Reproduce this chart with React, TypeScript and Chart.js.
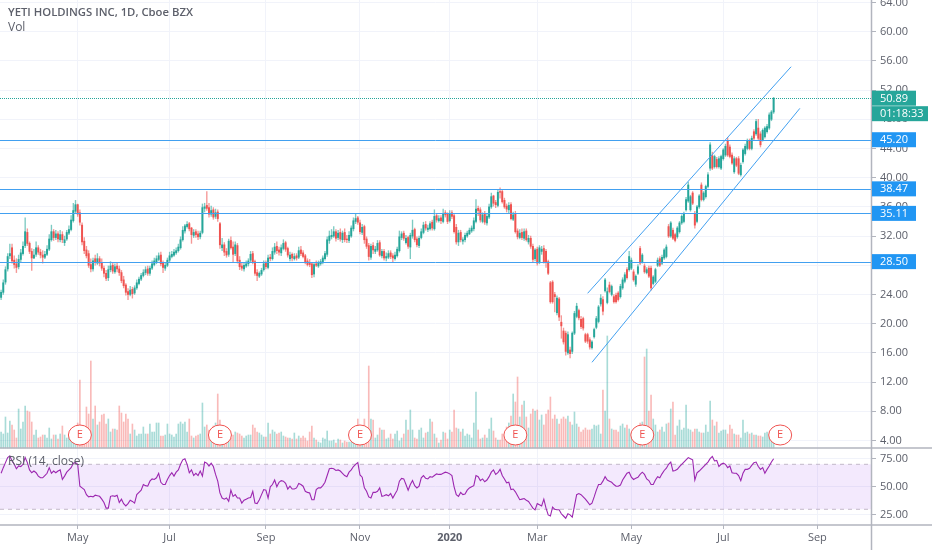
import { useEffect, useRef } from 'react';
import { Chart, registerables } from 'chart.js';

Chart.register(...registerables);

const FONT = '"Open Sans", sans-serif';
const UP = '#26a69a';
const DOWN = '#ef5350';
const BLUE = '#42a0f0';
const BADGE = '#2196f3';
const AXIS = '#b2b5be';
const TEXT = '#5d606b';

// daily candles
const opens = [
  23.6,24.3,25.7,27.5,29.3,30.4,28.7,28.2,27.8,28.8,
  29.6,30.7,32.5,31.0,29.9,29.0,29.5,30.4,29.8,29.4,
  29.1,29.5,30.2,31.5,32.6,31.8,32.3,31.5,32.2,31.1,
  31.6,32.4,32.9,34.1,35.4,36.3,35.2,33.5,31.3,30.1,
  29.6,28.1,27.5,28.9,28.3,28.9,28.4,27.6,26.9,26.3,
  27.4,28.0,27.1,27.9,27.5,27.0,26.0,25.3,24.4,24.0,
  24.7,24.2,24.9,25.5,26.1,26.6,27.0,27.5,26.9,27.6,
  28.1,28.5,28.8,29.4,28.3,27.6,28.0,28.7,29.2,29.4,
  29.7,30.0,30.4,31.5,32.7,33.3,33.7,33.1,32.1,32.6,
  32.3,31.9,32.5,35.8,36.2,35.9,35.0,35.6,34.7,35.3,
  33.7,30.4,30.8,29.9,29.5,31.4,30.5,29.6,30.7,28.7,
  27.9,27.5,27.9,28.2,28.7,29.6,28.5,27.0,26.5,26.8,
  27.4,28.3,27.7,29.1,28.9,29.8,30.6,30.1,29.7,30.3,
  31.1,30.3,28.9,29.5,28.9,29.3,29.1,30.1,29.7,29.3,
  28.6,28.3,28.2,26.8,28.2,27.9,28.2,28.4,28.9,29.5,
  31.4,31.9,32.0,32.6,31.8,32.5,31.5,32.5,31.6,31.4,
  32.0,33.0,34.0,34.5,33.8,32.5,33.3,31.6,30.7,29.1,
  30.7,29.9,30.1,31.1,29.3,29.9,29.0,29.1,29.7,29.3,
  28.9,29.3,30.0,31.8,32.4,31.1,31.8,30.5,32.0,32.9,
  31.6,30.7,31.8,32.5,33.6,32.9,33.0,33.9,33.0,34.8,
  34.1,34.5,34.0,35.2,35.0,34.1,35.2,34.8,33.2,31.2,
  32.5,31.3,31.5,32.0,32.3,32.7,33.0,34.0,35.8,35.6,
  34.0,35.0,33.8,34.6,36.0,37.5,36.6,36.2,38.1,38.1,
  36.9,36.1,35.6,36.3,34.3,35.0,32.7,31.8,32.5,31.7,
  32.7,31.2,31.7,30.6,28.9,30.2,28.4,29.9,30.3,29.9,
  28.5,25.6,25.7,24.0,21.5,23.4,20.2,19.0,18.7,16.0,
  16.4,16.2,18.7,21.0,21.8,20.6,20.7,18.5,18.5,17.8,
  16.7,18.2,19.5,20.3,22.7,23.3,24.5,22.9,25.3,24.0,
  23.7,23.9,24.2,23.7,24.9,25.8,27.4,27.4,27.6,27.1,
  25.4,26.9,30.3,28.5,27.9,27.0,27.6,27.6,25.5,25.8,
  28.0,28.9,28.3,29.0,29.2,33.3,32.0,32.8,32.2,31.9,
  32.6,33.8,34.0,35.6,36.8,35.6,37.9,35.1,34.0,36.0,
  39.0,37.0,37.4,38.8,41.3,43.0,41.5,42.5,41.5,41.3,
  42.6,43.1,45.0,44.2,43.1,40.8,42.6,42.6,40.4,42.2,
  43.3,44.0,45.0,44.0,46.3,46.0,46.8,46.0,45.2,45.6,
  46.3,46.8,48.0,49.0,
];

const highs = [
  24.6,26.0,27.8,29.6,30.9,30.9,29.3,28.9,29.4,30.2,
  31.2,34.5,33.0,31.2,30.3,30.2,31.2,30.7,30.2,30.0,
  29.9,30.7,32.2,33.5,32.9,32.8,32.6,32.8,32.6,32.0,
  32.8,33.4,34.8,36.5,36.9,36.4,35.6,33.8,31.8,30.6,
  30.0,28.9,29.0,29.4,29.6,29.2,28.9,27.9,27.3,27.9,
  28.5,28.4,28.2,28.3,27.9,27.3,26.5,25.5,24.8,25.1,
  25.0,25.2,26.0,26.4,26.9,27.4,27.8,27.9,27.9,28.6,
  29.0,29.3,29.7,29.8,28.6,28.3,29.0,29.8,29.9,30.2,
  30.4,30.9,31.9,33.3,33.6,34.0,33.9,33.2,32.9,32.9,
  32.7,32.7,36.4,36.5,38.1,36.5,36.1,35.9,35.7,35.6,
  33.9,31.7,31.1,30.3,31.6,31.9,31.2,31.2,31.0,29.2,
  28.4,28.4,28.6,28.9,29.9,29.9,28.7,27.4,27.1,27.6,
  28.6,28.6,29.4,29.5,30.4,31.0,31.2,30.5,30.8,31.5,
  31.3,30.5,29.8,29.7,29.6,29.6,30.5,30.6,30.0,29.5,
  28.9,28.8,28.4,28.4,28.6,28.6,28.8,29.3,29.9,31.9,
  32.7,32.9,33.3,32.9,32.8,33.0,32.7,33.0,32.1,32.6,
  33.4,34.5,35.1,34.7,34.2,33.6,33.5,31.9,31.0,30.9,
  31.1,30.6,31.4,31.4,30.2,30.2,29.7,30.0,30.0,29.6,
  29.8,30.5,32.7,32.6,32.7,32.1,32.0,32.4,34.2,33.1,
  31.9,32.0,33.0,33.9,34.0,33.5,34.0,34.2,35.6,35.0,
  34.8,34.8,35.7,35.5,35.2,35.5,35.5,35.0,33.6,32.8,
  32.8,31.8,32.4,32.7,33.1,33.4,34.5,37.0,36.1,35.9,
  35.2,35.4,35.0,36.4,37.9,37.6,36.9,38.3,38.6,38.4,
  37.2,36.4,36.6,36.6,35.3,35.4,33.0,32.9,33.0,33.0,
  33.0,32.1,32.0,30.9,30.3,30.5,30.7,30.6,30.7,30.2,
  28.7,25.8,25.9,24.3,23.8,23.6,21.1,19.4,19.0,18.9,
  16.8,18.9,21.7,22.8,22.0,21.0,20.9,18.7,18.7,18.1,
  17.7,19.4,21.0,22.5,24.0,23.7,26.2,24.9,25.7,25.3,
  24.0,24.2,24.4,25.4,26.3,27.0,27.7,29.9,29.0,27.4,
  26.7,28.1,30.6,29.6,28.2,27.7,27.9,27.9,26.6,27.6,
  29.0,29.2,29.4,30.3,30.8,33.6,34.0,33.1,32.4,33.3,
  34.0,34.9,35.3,37.3,39.4,37.6,38.1,35.4,36.2,37.7,
  39.3,38.1,39.0,40.7,44.8,43.5,43.1,42.8,42.9,43.1,
  44.0,44.6,45.5,44.5,43.4,42.9,42.8,42.9,42.0,44.0,
  44.6,45.3,45.3,45.7,46.6,48.0,48.0,46.3,46.7,47.0,
  47.3,48.9,49.2,51.0,
];

const lows = [
  23.3,24.0,25.4,27.2,28.9,28.3,27.6,27.0,27.5,28.5,
  29.4,30.4,30.7,29.6,27.3,28.9,29.2,29.5,29.0,28.3,
  28.9,29.3,30.0,31.3,31.4,31.5,31.2,31.2,31.1,30.7,
  31.4,32.2,32.7,33.9,35.1,34.7,33.5,30.8,29.6,29.0,
  27.7,27.1,27.2,28.0,28.1,27.9,27.3,26.4,25.9,25.9,
  27.1,26.9,26.9,27.1,26.6,25.6,24.9,23.9,23.3,23.8,
  23.5,24.0,24.7,25.3,25.9,26.4,26.7,26.6,26.6,27.4,
  27.9,28.2,28.6,27.9,27.0,27.3,27.8,28.5,29.0,29.2,
  29.5,29.8,30.2,31.3,32.4,33.1,32.7,31.0,31.8,31.8,
  31.5,31.6,32.3,35.3,35.5,34.6,34.7,34.3,34.4,34.0,
  30.3,30.0,29.3,29.1,29.2,30.2,28.5,29.3,28.3,27.4,
  27.3,27.2,27.7,27.9,28.4,28.2,26.6,25.9,26.3,26.6,
  27.2,27.5,27.5,28.6,28.7,29.5,29.6,29.4,29.3,30.1,
  29.9,29.1,28.6,28.6,28.7,28.7,28.9,29.3,29.0,28.2,
  27.9,27.8,26.3,26.4,27.8,27.7,28.0,28.2,28.7,29.2,
  31.0,31.6,31.8,31.3,31.5,31.3,31.1,31.2,31.1,31.1,
  31.8,32.7,33.7,33.6,32.3,32.2,31.0,30.3,28.7,28.8,
  29.6,29.6,29.9,29.2,29.0,28.7,28.6,28.9,28.9,28.5,
  28.7,29.1,29.8,31.5,31.4,30.9,30.3,28.9,31.7,31.2,
  30.5,30.4,31.6,32.3,32.8,32.6,32.8,32.8,32.8,33.9,
  33.9,33.7,33.8,34.6,33.7,33.9,34.4,32.4,30.9,30.7,
  31.2,30.9,31.2,31.8,32.2,32.5,32.7,33.8,34.8,33.9,
  33.8,33.6,33.5,34.4,35.8,36.1,35.9,36.0,37.2,36.5,
  35.8,35.3,35.2,34.2,34.1,32.4,31.6,31.6,31.5,31.4,
  31.3,30.9,30.3,28.4,28.6,28.0,28.2,29.5,28.3,27.7,
  26.7,22.8,22.8,21.6,21.2,20.4,18.0,17.2,15.7,15.8,
  15.3,15.9,18.5,20.8,20.5,19.3,19.1,17.4,17.3,16.5,
  16.5,18.0,19.3,20.1,22.4,21.2,24.3,22.7,24.2,23.8,
  22.8,22.8,23.1,23.5,24.7,25.6,26.1,27.2,27.4,25.8,
  25.1,26.7,28.1,28.3,26.9,26.8,26.3,24.6,25.3,25.6,
  27.8,27.8,28.1,28.8,29.0,31.8,31.8,31.5,31.2,31.7,
  32.4,33.6,33.8,35.4,36.6,35.4,36.3,33.1,33.8,35.8,
  36.8,36.8,37.2,38.6,41.0,41.1,41.3,41.3,41.3,41.1,
  42.4,42.9,42.9,42.7,41.8,40.6,41.5,40.4,40.2,42.0,
  43.1,43.8,43.8,43.8,45.2,45.8,45.2,44.2,45.0,45.4,
  46.1,46.6,47.8,48.8,
];

const closes = [
  24.3,25.6,27.4,29.2,29.6,28.6,28.1,27.7,28.8,29.7,
  30.6,32.6,31.0,29.9,29.0,29.4,30.4,29.8,29.4,29.1,
  29.5,30.2,31.6,32.6,31.8,32.3,31.6,32.2,31.5,31.5,
  32.5,32.9,34.2,35.5,36.3,35.0,33.9,31.2,30.0,29.3,
  28.0,27.5,28.6,28.4,28.9,28.3,27.6,26.9,26.2,27.4,
  27.9,27.2,27.8,27.5,27.0,25.9,25.2,24.3,24.0,24.6,
  24.1,24.9,25.6,26.1,26.6,27.0,27.4,26.9,27.6,28.2,
  28.6,28.9,29.3,28.2,27.7,28.0,28.7,29.3,29.5,29.8,
  30.0,30.5,31.5,32.8,33.4,33.6,33.0,32.2,32.5,32.2,
  31.9,32.4,35.9,36.0,35.8,35.0,35.5,34.6,35.2,34.4,
  30.8,30.8,29.8,29.4,31.3,30.4,29.5,30.8,28.6,27.8,
  27.6,28.0,28.2,28.6,29.5,28.4,26.9,26.6,26.9,27.3,
  28.2,27.8,29.0,28.9,29.9,30.5,30.0,29.8,30.4,31.0,
  30.2,29.4,29.4,29.0,29.2,29.0,30.0,29.6,29.2,28.5,
  28.1,28.1,26.7,28.1,28.0,28.3,28.5,29.0,29.6,31.5,
  32.0,32.1,32.6,31.7,32.4,31.6,32.4,31.5,31.5,32.1,
  33.1,34.1,34.4,33.9,32.6,33.2,31.5,30.6,29.2,30.6,
  30.1,30.2,31.0,29.4,29.9,29.0,29.2,29.6,29.2,29.0,
  29.4,30.2,31.9,32.3,31.7,31.7,30.6,32.1,32.8,31.5,
  30.8,31.7,32.6,33.5,33.1,33.1,33.7,33.1,34.7,34.2,
  34.4,34.1,35.1,34.9,34.0,35.1,34.7,32.6,31.2,32.4,
  31.5,31.5,32.1,32.4,32.8,33.1,34.1,35.7,35.5,34.2,
  34.9,33.9,34.7,36.0,37.4,36.5,36.3,38.0,38.0,36.7,
  36.0,35.7,36.2,34.4,34.9,32.6,31.9,32.4,31.8,32.6,
  31.5,31.7,30.6,28.8,30.1,28.3,30.4,30.2,28.5,28.5,
  26.9,23.0,23.0,23.7,23.5,20.9,19.7,17.5,16.2,18.5,
  15.9,18.7,21.4,22.4,20.8,19.6,19.4,17.6,17.6,16.8,
  17.5,19.2,20.7,22.3,23.5,21.7,26.0,24.4,24.4,25.1,
  23.0,23.0,23.3,25.1,26.0,26.7,26.3,29.2,28.7,26.0,
  26.5,27.8,28.3,29.4,27.1,27.4,26.5,24.9,26.4,27.4,
  28.7,28.0,29.1,30.1,30.5,32.0,33.8,31.7,31.4,33.1,
  33.8,34.7,35.1,37.0,39.0,37.4,36.5,33.5,36.0,37.5,
  37.0,37.9,38.8,40.4,44.5,41.3,42.9,41.5,42.6,42.9,
  43.8,44.3,43.1,42.9,42.0,42.6,41.7,40.6,41.7,43.8,
  44.3,45.0,44.0,45.4,45.4,47.7,45.4,44.5,46.5,46.8,
  47.0,48.6,49.0,50.89,
];

const volumes = [
  1.6,1.4,3.1,1.5,2.7,2.3,1.8,1.0,3.9,1.9,
  2.6,4.2,3.7,3.6,2.6,1.3,1.8,1.0,1.1,1.3,
  1.3,1.0,2.0,0.9,1.3,1.3,0.9,1.4,2.2,1.3,
  1.0,1.2,1.6,1.7,2.0,2.5,6.8,1.5,1.6,4.1,
  3.4,8.7,2.9,4.2,2.3,2.6,3.3,3.4,2.4,2.9,
  1.6,1.9,1.9,1.8,4.2,3.5,2.6,3.4,2.9,1.4,
  2.4,1.8,1.2,1.4,1.4,2.1,1.4,1.4,2.4,1.6,
  1.6,2.5,2.5,1.2,1.2,1.3,2.4,1.4,1.3,1.1,
  1.4,2.4,2.6,2.4,2.6,1.6,2.9,1.2,1.0,1.2,
  1.3,1.4,4.5,2.1,2.3,1.8,1.8,2.2,2.5,5.4,
  2.8,1.4,1.2,1.0,1.3,1.0,1.3,1.6,1.5,1.4,
  1.2,1.0,1.2,1.3,1.3,2.3,2.0,1.6,1.5,1.3,
  1.1,1.1,2.5,1.4,1.8,1.6,1.4,1.5,1.6,1.2,
  1.1,1.0,1.0,0.9,1.5,0.9,1.2,1.0,1.2,1.0,
  0.7,1.6,2.2,1.0,0.8,0.6,0.5,1.0,0.9,1.7,
  0.7,0.7,0.8,0.5,0.9,0.8,0.5,0.7,0.6,0.6,
  0.6,0.7,1.2,2.9,1.0,1.5,2.9,1.5,8.2,2.9,
  2.8,1.0,1.3,2.0,1.8,1.8,0.9,1.0,1.4,0.9,
  1.4,1.7,0.7,1.0,1.4,2.8,1.8,3.8,1.8,1.0,
  0.9,1.8,2.0,1.0,1.5,1.6,2.9,2.6,1.4,1.0,
  0.5,0.8,1.6,1.5,0.9,1.8,1.6,3.8,2.0,1.9,
  1.6,1.9,1.2,1.4,1.3,1.0,2.5,5.6,1.8,0.9,
  1.0,1.3,1.0,1.9,3.0,1.7,1.0,0.8,0.8,1.4,
  1.2,2.1,2.5,3.2,5.4,4.6,7.1,3.1,4.3,4.7,
  3.1,2.0,3.4,3.9,3.7,3.8,2.8,3.3,2.3,3.4,
  3.8,5.1,2.9,3.3,2.9,2.4,2.9,3.1,2.9,3.2,
  2.6,2.3,3.6,2.4,2.1,1.6,1.8,2.0,1.8,1.8,
  1.9,2.3,2.2,2.3,1.4,5.8,3.7,11.2,2.9,1.9,
  1.8,1.8,1.6,2.2,2.4,2.0,2.3,1.9,1.5,1.8,
  1.7,1.8,2.5,2.6,9.1,9.9,3.7,5.3,2.9,2.3,
  1.6,1.8,2.1,1.6,2.4,2.5,3.9,4.6,1.3,2.2,
  2.8,1.8,2.0,4.3,1.9,1.8,1.6,1.9,1.9,1.6,
  1.5,1.5,2.3,1.6,4.7,2.8,2.2,2.6,1.5,1.7,
  1.8,1.8,1.4,2.3,1.9,1.4,1.3,1.3,1.0,2.8,
  1.5,1.6,1.4,1.5,1.3,1.3,1.2,1.2,1.1,1.5,
  1.6,1.2,1.0,0.5,
];

const rsi = [
  62,67,71.5,76,77.5,73,70,66,68.5,68,
  70,76,71.5,65,62.5,64,62.5,59.5,58,58,
  60,62,67,62,64,62.5,64,65,56.5,59.5,
  63,65,67,71,71.5,70,50.5,49,47.5,43,
  41,41.5,41,42.5,42,41.5,39,36,31,31,
  41.5,42,41.5,42.5,36,39,35,33,35,38,
  37,35.5,43,45,47,52,51,50.5,55,57,
  56.5,58,62,54,52,52,56.5,60,62.5,59.5,
  63,65,70,74,75,70,62.5,65,60,62,
  60,64,59.5,72,71,68.5,71,68,61,55,
  44.5,40,39,40,37,47,41.5,43,40,40,
  35.5,38,39,40,40.5,46,35.5,35,38.5,43,
  47.5,47,40,50,52,56,50,54,55.5,55,
  53,48,50.5,48,48,49,53,52,50.5,46,
  45,44.5,38.5,38.5,47.5,49,49,51,54,60,
  66,66.5,66,64.5,65,64,62,60,59,63,
  65,68,70,71.5,60.5,58.5,49,46,41,40,
  45,45,46,49,41.5,42,43,42,44,40,
  43.5,47,55,57.5,57,52,47,52,55.5,51,
  49,50.5,58,60,57.5,57,59,58.5,60,61.5,
  61,61,62,63,62.5,61.5,60,50,43,41.5,
  45,43,43.5,47,49,50,51,60,59,55.5,
  57,54.5,56,59,63,65,61,62.5,65.5,60,
  57,53.5,54,47.5,48,45.5,42,38.5,39,39.5,
  38,37,34,31,29.5,35,34,33,39,31,
  25,24,32,30,29.5,29.5,26,24,22,26,
  25,23,33,43,44,43,41,39,36.5,34,
  35.5,41,47,52,52,55,59,56,55,54,
  52,50.5,50.5,51.5,56,59,62,63,58.5,56.5,
  57.5,58.5,61,63,61,57,55.5,52,52,56,
  59,58,61.5,64.5,66.5,70,72,64,64.5,65.5,
  68,70,72,74,76,75,74,56,62.5,64,
  66,68,70,72,75,77,73,73.5,68,70,
  71,70,67,68.5,62.5,62,62,60,55.5,62,
  65.5,65.5,66.5,69,71.5,72,68,65.5,67,62,
  65.5,68.5,72,75,
];

const slotCount = 398; // bars plus the empty space to the right of the last one
const slots = Array.from({ length: slotCount }, (_, i) => String(i));

const monthSlots = [35, 77, 121, 164, 205, 245, 288, 330, 373];
const monthNames = ['May', 'Jul', 'Sep', 'Nov', '2020', 'Mar', 'May', 'Jul', 'Sep'];
const priceTicks = [4, 8, 12, 16, 20, 24, 28, 32, 36, 40, 44, 48, 52, 56, 60, 64];
const rsiTicks = [25, 50, 75];

const levels = [45.2, 38.47, 35.11, 28.5];
const lastPrice = 50.89;
const countdown = '01:18:33';
const earningsSlots = [36, 100, 164, 235, 293, 356];
const upperChannel: [number, number][] = [[268, 24.16], [361, 55.2]];
const lowerChannel: [number, number][] = [[270, 14.71], [365, 49.5]];

const channelData = (pts: [number, number][]) =>
  slots.map((_, i) => {
    const hit = pts.find((p) => p[0] === i);
    return hit ? hit[1] : null;
  });

const isUp = (i: number) => closes[i] >= opens[i];

// fixed axis width, and no room reserved for half a tick label at the pane ends
const fitPane = (s: any) => {
  s.width = 61;
  s.paddingTop = 0;
  s.paddingBottom = 0;
};

const overlay = {
  id: 'overlay',
  beforeDatasetsDraw(chart: any) {
    const { ctx, chartArea, scales } = chart;
    const r = scales.rsi;
    const top = r.getPixelForValue(70);
    const bot = r.getPixelForValue(30);
    ctx.save();
    ctx.fillStyle = 'rgba(140,40,235,0.1)';
    ctx.fillRect(chartArea.left, top, chartArea.width, bot - top);
    ctx.strokeStyle = '#c3b8c9';
    ctx.setLineDash([4, 4]);
    ctx.lineWidth = 1;
    [top, bot].forEach((y) => {
      ctx.beginPath();
      ctx.moveTo(chartArea.left, y);
      ctx.lineTo(chartArea.right, y);
      ctx.stroke();
    });
    ctx.restore();
  },
  afterDatasetsDraw(chart: any) {
    const { ctx, chartArea, scales } = chart;
    const y = scales.y;
    const x = scales.x;
    ctx.save();
    ctx.strokeStyle = BLUE;
    ctx.lineWidth = 1;
    levels.forEach((v) => {
      const p = Math.round(y.getPixelForValue(v)) + 0.5;
      ctx.beginPath();
      ctx.moveTo(chartArea.left, p);
      ctx.lineTo(chartArea.right, p);
      ctx.stroke();
    });
    const lp = Math.round(y.getPixelForValue(lastPrice)) + 0.5;
    ctx.strokeStyle = UP;
    ctx.setLineDash([1, 1]);
    ctx.beginPath();
    ctx.moveTo(chartArea.left, lp);
    ctx.lineTo(chartArea.right, lp);
    ctx.stroke();
    ctx.setLineDash([]);

    // earnings markers sit on the bottom of the price pane
    earningsSlots.forEach((s) => {
      const cx = x.getPixelForValue(s);
      const cy = y.bottom - 13;
      ctx.beginPath();
      ctx.ellipse(cx, cy, 11.5, 10, 0, 0, Math.PI * 2);
      ctx.fillStyle = '#ffffff';
      ctx.fill();
      ctx.strokeStyle = DOWN;
      ctx.lineWidth = 1;
      ctx.stroke();
      ctx.fillStyle = DOWN;
      ctx.font = `11px ${FONT}`;
      ctx.textAlign = 'center';
      ctx.textBaseline = 'middle';
      ctx.fillText('E', cx, cy);
    });
    ctx.restore();
  },
  afterDraw(chart: any) {
    const { ctx, chartArea, scales, width, height } = chart;
    const y = scales.y;
    ctx.save();
    // pane borders and price axis line
    ctx.strokeStyle = AXIS;
    ctx.lineWidth = 1.5;
    [y.bottom, chartArea.bottom].forEach((p) => {
      ctx.beginPath();
      ctx.moveTo(0, p);
      ctx.lineTo(width, p);
      ctx.stroke();
    });
    ctx.beginPath();
    ctx.moveTo(chartArea.right + 0.5, 0);
    ctx.lineTo(chartArea.right + 0.5, height);
    ctx.stroke();

    // legends
    ctx.textAlign = 'left';
    ctx.textBaseline = 'middle';
    ctx.fillStyle = TEXT;
    ctx.font = `600 11.3px ${FONT}`;
    ctx.fillText('YETI HOLDINGS INC, 1D, Cboe BZX', 8, 13);
    ctx.font = `12px ${FONT}`;
    ctx.fillText('Vol', 8, 28);
    ctx.fillText('RSI (14, close)', 8, 462);

    // price badges
    const badge = (v: number, color: string, text: string, w: number, dy = 0) => {
      const p = y.getPixelForValue(v) + dy;
      ctx.fillStyle = color;
      ctx.fillRect(chartArea.right + 1, p - 7.5, w, 15);
      ctx.fillStyle = '#ffffff';
      ctx.font = `11px ${FONT}`;
      ctx.fillText(text, chartArea.right + 9, p + 0.5);
    };
    levels.forEach((v) => badge(v, BADGE, v.toFixed(2), 44));
    badge(lastPrice, UP, lastPrice.toFixed(2), 44);
    badge(lastPrice, UP, countdown, 56, 15.5);
    ctx.restore();
  },
};

export default function App() {
  const canvasRef = useRef<HTMLCanvasElement>(null);

  useEffect(() => {
    if (!canvasRef.current) return;

    const chart = new Chart(canvasRef.current, {
      type: 'bar',
      data: {
        labels: slots,
        datasets: [
          {
            type: 'line',
            label: 'Upper channel',
            data: channelData(upperChannel),
            yAxisID: 'y',
            borderColor: BLUE,
            borderWidth: 1,
            pointRadius: 0,
            spanGaps: true,
            order: 0,
          },
          {
            type: 'line',
            label: 'Lower channel',
            data: channelData(lowerChannel),
            yAxisID: 'y',
            borderColor: BLUE,
            borderWidth: 1,
            pointRadius: 0,
            spanGaps: true,
            order: 0,
          },
          {
            type: 'line',
            label: 'RSI',
            data: rsi,
            yAxisID: 'rsi',
            borderColor: '#9c27b0',
            borderWidth: 1.1,
            pointRadius: 0,
            order: 0,
          },
          {
            label: 'Body',
            data: opens.map((o, i) => [o, closes[i]]),
            yAxisID: 'y',
            backgroundColor: opens.map((_, i) => (isUp(i) ? UP : DOWN)),
            barThickness: 1.3,
            grouped: false,
            order: 1,
          },
          {
            label: 'Wick',
            data: lows.map((l, i) => [l, highs[i]]),
            yAxisID: 'y',
            backgroundColor: opens.map((_, i) => (isUp(i) ? 'rgba(38,166,154,0.6)' : 'rgba(239,83,80,0.6)')),
            barThickness: 0.7,
            grouped: false,
            order: 2,
          },
          {
            label: 'Vol',
            data: volumes,
            yAxisID: 'vol',
            backgroundColor: opens.map((_, i) => (isUp(i) ? 'rgba(38,166,154,0.4)' : 'rgba(239,83,80,0.4)')),
            barThickness: 1,
            grouped: false,
            order: 3,
          },
        ] as any,
      },
      options: {
        responsive: false,
        animation: false,
        layout: { padding: 0, autoPadding: false },
        plugins: { legend: { display: false }, tooltip: { enabled: false } },
        scales: {
          x: {
            grid: { offset: false, color: '#f1f3fa', tickColor: AXIS, tickLength: 4 },
            border: { display: false },
            afterFit: (s: any) => { s.height = 25; },
            afterBuildTicks: (s: any) => { s.ticks = monthSlots.map((value) => ({ value })); },
            ticks: {
              autoSkip: false,
              maxRotation: 0,
              padding: 2,
              color: TEXT,
              font: (c: any) => ({
                family: FONT,
                size: 11,
                weight: monthNames[monthSlots.indexOf(c.tick?.value)] === '2020' ? 'bold' : 'normal',
              }),
              callback: (v: any) => monthNames[monthSlots.indexOf(v)],
            },
          },
          y: {
            position: 'right',
            stack: 'panes',
            stackWeight: 448,
            weight: 1,
            min: 2.97,
            max: 64.34,
            grid: { color: '#f1f3fa', tickColor: AXIS, tickLength: 5 },
            border: { display: false },
            afterFit: fitPane,
            afterBuildTicks: (s: any) => { s.ticks = priceTicks.map((value) => ({ value })); },
            ticks: {
              autoSkip: false,
              padding: 4,
              color: TEXT,
              font: { family: FONT, size: 11 },
              callback: (v: any) => Number(v).toFixed(2),
            },
          },
          rsi: {
            position: 'right',
            stack: 'panes',
            stackWeight: 77,
            weight: 2,
            min: 16,
            max: 84.5,
            grid: { color: '#f1f3fa', tickColor: AXIS, tickLength: 5 },
            border: { display: false },
            afterFit: fitPane,
            afterBuildTicks: (s: any) => { s.ticks = rsiTicks.map((value) => ({ value })); },
            ticks: {
              autoSkip: false,
              padding: 4,
              color: TEXT,
              font: { family: FONT, size: 11 },
              callback: (v: any) => Number(v).toFixed(2),
            },
          },
          // volume shares the price pane, its zero is the pane's bottom edge
          vol: {
            display: false,
            position: 'right',
            min: -7.7,
            max: 44.8,
          },
        },
      },
      plugins: [overlay],
    } as any);

    return () => chart.destroy();
  }, []);

  return (
    <div style={{ position: 'fixed', left: 0, top: 0, width: 932, height: 550, background: '#fff' }}>
      <canvas ref={canvasRef} width={932} height={550} style={{ display: 'block' }} />
    </div>
  );
}
